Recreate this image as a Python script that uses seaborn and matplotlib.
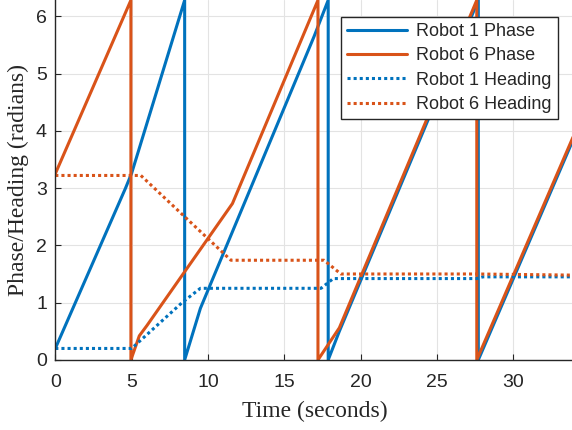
import numpy as np
import pandas as pd
import matplotlib
matplotlib.use("Agg")
import matplotlib.pyplot as plt
import seaborn as sns

# Robot phase (sawtooth, wraps at 2*pi)
r1_phase_t = [0, 4.6, 5.0, 8.47, 8.47, 9.5, 16.95, 17.87, 17.87, 18.6, 27.7, 27.7, 34]
r1_phase = [0.2, 3.0, 3.26, 6.28, 0, 0.9, 5.65, 6.28, 0, 0.5, 6.28, 0, 3.9]
r6_phase_t = [0, 4.95, 4.95, 5.5, 6.0, 11.6, 17.2, 17.2, 18.6, 27.6, 27.6, 34]
r6_phase = [3.25, 6.28, 0, 0.42, 0.6, 2.73, 6.28, 0, 0.56, 6.28, 0, 3.95]

# Robot heading
r1_head_t = [0, 5.0, 8.3, 9.5, 17.4, 18.2, 27.6, 28.0, 34]
r1_head = [0.2, 0.2, 1.0, 1.25, 1.25, 1.42, 1.42, 1.45, 1.45]
r6_head_t = [0, 5.6, 11.5, 17.6, 18.7, 27.6, 34]
r6_head = [3.22, 3.22, 1.74, 1.74, 1.5, 1.5, 1.48]

blue = "#0072BD"
orange = "#D95319"

sns.set_style("whitegrid", {"grid.color": "#e3e3e3", "axes.edgecolor": "#262626",
                            "xtick.direction": "in", "ytick.direction": "in"})
plt.rcParams["font.family"] = ["Liberation Sans", "DejaVu Sans"]

fig = plt.figure(figsize=(5.72, 4.30), dpi=100)
ax = fig.add_axes([0.0967, 0.163, 0.9077, 0.837])

series = [
    (r1_phase_t, r1_phase, "Robot 1 Phase", blue, "-"),
    (r6_phase_t, r6_phase, "Robot 6 Phase", orange, "-"),
    (r1_head_t, r1_head, "Robot 1 Heading", blue, ":"),
    (r6_head_t, r6_head, "Robot 6 Heading", orange, ":"),
]
for t, v, name, col, ls in series:
    df = pd.DataFrame({"t": t, "v": v})
    sns.lineplot(data=df, x="t", y="v", ax=ax, sort=False, estimator=None,
                 color=col, linewidth=2.2, label=name)
    if ls == ":":
        ax.lines[-1].set_dashes((1, 1))
        ax.lines[-1].set_dash_capstyle("butt")

ax.set_xlim(0, 34)
ax.set_ylim(0, 2 * np.pi)
ax.set_xticks(range(0, 31, 5))
ax.set_yticks(range(0, 7))
ax.tick_params(labelsize=14, length=4, color="#262626", colors="#262626",
               bottom=True, left=True)
ax.tick_params(axis="x", pad=10)
ax.tick_params(axis="y", pad=6)
ax.spines["top"].set_visible(False)
ax.spines["right"].set_visible(False)
for s in ax.spines.values():
    s.set_linewidth(1.0)

ax.set_xlabel("Time (seconds)", family="Liberation Serif", fontsize=17, color="#262626", labelpad=7)
ax.set_ylabel("Phase/Heading (radians)", family="Liberation Serif", fontsize=17, color="#262626", labelpad=5)

leg = ax.legend(loc="upper right", bbox_to_anchor=(0.968, 0.953), borderaxespad=0,
                fontsize=13, fancybox=False, framealpha=1, edgecolor="#262626",
                handlelength=3.3, labelspacing=0.4, borderpad=0.35, handletextpad=0.5)
leg.get_frame().set_linewidth(1.0)

fig.savefig("out.png", dpi=100)
